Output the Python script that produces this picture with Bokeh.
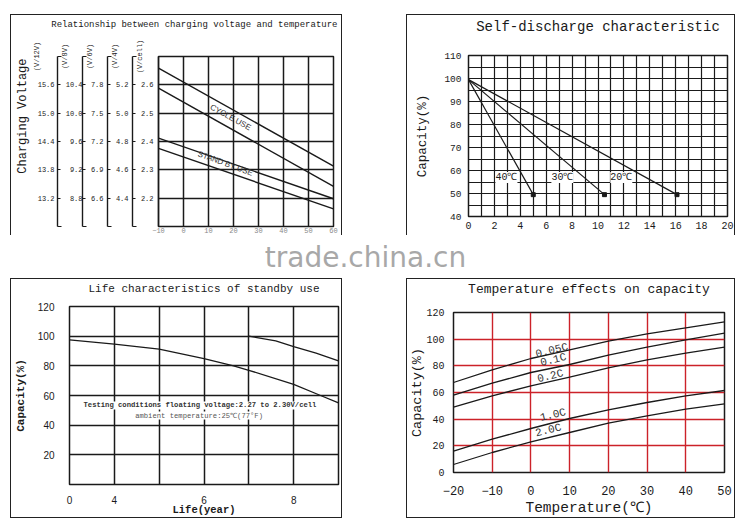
import math
from bokeh.plotting import figure
from bokeh.layouts import column, row
from bokeh.models import (Range1d, LinearAxis, FixedTicker, PrintfTickFormatter,
                          Label, Spacer, Title)
from bokeh.embed import file_html
from bokeh.resources import INLINE

MONO = "Liberation Mono"
SANS = "Liberation Sans"
INK = "#1a1a1a"

# ---------------- Panel 1: charging voltage vs temperature ----------------
p1_temp = [-10, 60]
p1_temp_ticks = [-10, 0, 10, 20, 30, 40, 50, 60]
cycle_upper = [2.659, 2.313]
cycle_lower = [2.588, 2.242]
standby_upper = [2.412, 2.198]
standby_lower = [2.376, 2.162]
v_cell_ticks = [2.2, 2.3, 2.4, 2.5, 2.6]
v4_ticks = [4.4, 4.6, 4.8, 5.0, 5.2]
v6_ticks = [6.6, 6.9, 7.2, 7.5, 7.8]
v8_ticks = [8.8, 9.2, 9.6, 10.0, 10.4]
v12_ticks = [13.2, 13.8, 14.4, 15.0, 15.6]
scale_names = ["(V/cell)", "(V/4V)", "(V/6V)", "(V/8V)", "(V/12V)"]

# ---------------- Panel 2: self-discharge ----------------
sd_x_ticks = [0, 2, 4, 6, 8, 10, 12, 14, 16, 18, 20]
sd_x_grid = list(range(0, 21))
sd_y_ticks = [40, 50, 60, 70, 80, 90, 100, 110]
sd_y_grid = [40, 45, 50, 55, 60, 65, 70, 75, 80, 85, 90, 95, 100, 105, 110]
sd_40_x = [0, 5.0]
sd_30_x = [0, 10.5]
sd_20_x = [0, 16.1]
sd_y = [99.5, 49.5]
sd_labels = ["40℃", "30℃", "20℃"]

# ---------------- Panel 3: life characteristics ----------------
life_x1 = [3, 4, 5, 6, 6.66, 7, 8, 8.6, 9]
life_y1 = [97.5, 94.6, 91.2, 84.9, 80, 77, 67.5, 60, 55]
life_x2 = [7, 7.6, 8, 8.5, 9]
life_y2 = [100, 96.8, 93, 88.5, 83.3]
life_x_ticks = [3, 4, 6, 8]
life_x_grid = [4, 5, 6, 7, 8]
life_y_ticks = [20, 40, 60, 80, 100, 120]

# ---------------- Panel 4: temperature effects ----------------
temp_c = [-20, -10, 0, 10, 20, 30, 40, 50]
cap_005 = [67.5, 77, 85.5, 92, 98.5, 104, 108.5, 113]
cap_01 = [58, 67, 75, 81, 88, 94, 99.5, 104.5]
cap_02 = [49, 57.5, 65, 71.5, 78.5, 84.5, 89.5, 94]
cap_10 = [16, 25, 33, 40.5, 47, 52.5, 57.5, 61.5]
cap_20 = [6, 15, 23, 30, 37, 42.5, 47.5, 51.5]
rate_labels = ["0.05C", "0.1C", "0.2C", "1.0C", "2.0C"]
te_y_ticks = [0, 20, 40, 60, 80, 100, 120]


def base_fig(w, h, xr, yr, left, right, top, bottom):
    p = figure(width=w, height=h, x_range=Range1d(*xr), y_range=Range1d(*yr),
               output_backend="svg", toolbar_location=None,
               min_border_left=left, min_border_right=right,
               min_border_top=top, min_border_bottom=bottom)
    if "frame_align" in p.properties():
        p.frame_align = False
    p.background_fill_color = "white"
    p.border_fill_color = "white"
    p.outline_line_color = INK
    p.outline_line_width = 1.5
    p.title.text = ""
    bx = p.below[0]
    ly = p.left[0]
    bx.axis_label = None
    ly.axis_label = None
    return p, bx, ly


def set_title(p, text, size, pad, offset=0, align="center"):
    # invisible spacer axis (one hidden tick) between frame and title, title outside it
    mid = 0.5 * (p.x_range.start + p.x_range.end)
    pad_ax = LinearAxis(ticker=FixedTicker(ticks=[mid]), major_tick_out=max(pad - 1, 0),
                        major_tick_in=0, major_tick_line_color=None, minor_tick_out=0,
                        minor_tick_in=0, minor_tick_line_color=None, axis_line_color=None,
                        axis_label=None, major_label_standoff=0,
                        major_label_text_font_size="1px", major_label_text_color=None)
    p.add_layout(pad_ax, "above")
    p.add_layout(Title(text=text, text_font=MONO, text_font_size=size,
                       text_font_style="normal", text_color=INK, align=align,
                       standoff=0, offset=offset), "above")


def style_axis(ax, font, size, standoff):
    ax.major_label_text_font = font
    ax.major_label_text_font_size = size
    ax.major_label_text_color = INK
    ax.major_label_standoff = standoff


def set_axis_label(ax, text, size, standoff, style="normal"):
    ax.axis_label = text
    ax.axis_label_text_font = MONO
    ax.axis_label_text_font_size = size
    ax.axis_label_text_font_style = style
    ax.axis_label_text_color = INK
    ax.axis_label_standoff = standoff


def plain_axis(ax):
    ax.axis_line_color = None
    ax.major_tick_line_color = None
    ax.minor_tick_line_color = None


BORDER = "1px solid #222"

# ======================= Panel 1 =======================
p1, p1x, p1y = base_fig(332, 221, (-10, 60), (2.1, 2.7), 147, 10, 41, 10)
p1.extra_y_ranges = {"v4": Range1d(4.2, 5.4), "v6": Range1d(6.3, 8.1),
                     "v8": Range1d(8.4, 10.8), "v12": Range1d(12.6, 16.2)}

scale_axes = [p1y]
for nm in ["v4", "v6", "v8", "v12"]:
    ax = LinearAxis(y_range_name=nm)
    p1.add_layout(ax, "left")
    scale_axes.append(ax)

scale_specs = [(v_cell_ticks, 2.1, 2.7, 5), (v4_ticks, 4.2, 5.4, 4),
               (v6_ticks, 6.3, 8.1, 4), (v8_ticks, 8.4, 10.8, 0),
               (v12_ticks, 12.6, 16.2, 3)]
for ax, (tk, lo, hi, so), nm in zip(scale_axes, scale_specs, scale_names):
    ax.ticker = FixedTicker(ticks=tk, minor_ticks=[lo, hi])
    ax.formatter = PrintfTickFormatter(format="%.1f")
    ax.major_tick_in = 3
    ax.major_tick_out = 0
    ax.minor_tick_in = 4
    ax.minor_tick_out = 0
    ax.major_tick_line_color = INK
    ax.minor_tick_line_color = INK
    ax.major_tick_line_width = 1.2
    ax.minor_tick_line_width = 1.2
    ax.axis_line_color = INK
    ax.axis_line_width = 1.4
    style_axis(ax, MONO, "7px", so)
    set_axis_label(ax, nm, "7px", -6)
    if "axis_label_align" in ax.properties():
        ax.axis_label_align = "end"

p1.add_layout(Title(text="Charging Voltage", align="right", offset=2, standoff=0,
                    text_font=MONO, text_font_size="12px", text_font_style="normal",
                    text_color=INK), "left")

p1x.ticker = FixedTicker(ticks=p1_temp_ticks)
p1x.major_tick_in = 0
p1x.major_tick_out = 0
p1x.minor_tick_line_color = None
p1x.axis_line_color = None
style_axis(p1x, MONO, "7px", 1)
p1x.major_label_text_color = "#888888"

p1.xgrid.ticker = FixedTicker(ticks=p1_temp_ticks)
p1.ygrid.ticker = FixedTicker(ticks=v_cell_ticks)
p1.grid.grid_line_color = INK
p1.grid.grid_line_width = 1.5

for ys in (cycle_upper, cycle_lower, standby_upper, standby_lower):
    p1.line(p1_temp, ys, line_color=INK, line_width=1.4)

p1.add_layout(Label(x=18.8, y=2.485, text="CYCLE USE", angle=-0.5,
                    text_align="center", text_baseline="middle", text_font=SANS,
                    text_font_size="8px", text_color="#333333"))
p1.add_layout(Label(x=16.8, y=2.322, text="STAND BY USE", angle=-0.35,
                    text_align="center", text_baseline="middle", text_font=SANS,
                    text_font_size="8px", text_color="#333333"))
set_title(p1, "Relationship between charging voltage and temperature", "9px", 28,
          offset=-4, align="right")
p1.styles = {"border-top": BORDER, "border-left": BORDER, "border-right": BORDER}

# ======================= Panel 2 =======================
p2, p2x, p2y = base_fig(329, 221, (0, 20), (40, 110), 61, 9, 40, 20)
p2x.ticker = FixedTicker(ticks=sd_x_ticks)
p2y.ticker = FixedTicker(ticks=sd_y_ticks, minor_ticks=sd_y_grid)
p2.xgrid.ticker = FixedTicker(ticks=sd_x_grid)
p2.ygrid.ticker = FixedTicker(ticks=sd_y_grid)
p2.grid.grid_line_color = INK
p2.grid.grid_line_width = 1.2
for ax in (p2x, p2y):
    ax.axis_line_color = None
    ax.major_tick_in = 4
    ax.major_tick_out = 0
    ax.minor_tick_in = 2
    ax.minor_tick_out = 0
    ax.major_tick_line_color = INK
    ax.minor_tick_line_color = INK
style_axis(p2x, MONO, "10px", 5)
style_axis(p2y, MONO, "9.5px", 7)
set_axis_label(p2y, "Capacity(%)", "12.5px", 11)

for xs in (sd_40_x, sd_30_x, sd_20_x):
    p2.line(xs, sd_y, line_color=INK, line_width=1.2)
    p2.scatter(xs[-1:], sd_y[-1:], marker="square", size=4, color=INK)
for lx, txt in zip((2.93, 7.25, 11.8), sd_labels):
    p2.add_layout(Label(x=lx, y=57, text=txt, text_align="center",
                        text_baseline="middle", text_font=MONO, text_font_size="10px",
                        text_color=INK, background_fill_color="white"))
set_title(p2, "Self-discharge characteristic", "14px", 22)
p2.styles = {"border-top": BORDER, "border-left": BORDER, "border-right": BORDER}

# ======================= Watermark band =======================
wm = figure(width=730, height=43, x_range=Range1d(0, 730), y_range=Range1d(0, 43),
            x_axis_location=None, y_axis_location=None, output_backend="svg",
            toolbar_location=None, min_border=0, outline_line_color=None)
wm.grid.visible = False
wm.add_layout(Label(x=365, y=21, text="trade.china.cn", text_align="center",
                    text_baseline="alphabetic", text_font="DejaVu Sans",
                    text_font_size="28px", text_color="#a8a8a8"))

# ======================= Panel 3 =======================
p3, p3x, p3y = base_fig(332, 240, (3, 9), (0, 120), 57, 5, 27, 35)
p3x.ticker = FixedTicker(ticks=life_x_ticks)
p3x.major_label_overrides = {3: "0"}
p3y.ticker = FixedTicker(ticks=life_y_ticks)
p3.xgrid.ticker = FixedTicker(ticks=life_x_grid)
p3.ygrid.ticker = FixedTicker(ticks=life_y_ticks)
p3.grid.grid_line_color = INK
p3.grid.grid_line_width = 1.5
plain_axis(p3x)
plain_axis(p3y)
style_axis(p3x, SANS, "10px", 5)
style_axis(p3y, SANS, "10px", 9)
set_axis_label(p3y, "Capacity(%)", "11px", 8, "bold")
set_axis_label(p3x, "Life(year)", "10.5px", -3, "bold")

p3.line(life_x1, life_y1, line_color=INK, line_width=1.3)
p3.line(life_x2, life_y2, line_color=INK, line_width=1.3)
p3.add_layout(Label(x=5.91, y=53.3, text="Testing conditions floating voltage:2.27 to 2.30V/cell",
                    text_align="center", text_baseline="middle", text_font=MONO,
                    text_font_size="7.2px", text_font_style="bold", text_color="#333333",
                    background_fill_color="white"))
p3.add_layout(Label(x=5.89, y=46.5, text="ambient temperature:25℃(77°F)",
                    text_align="center", text_baseline="middle", text_font=MONO,
                    text_font_size="7.2px", text_color="#555555",
                    background_fill_color="white"))
set_title(p3, "Life characteristics of standby use", "11px", 13)
p3.styles = {"border": BORDER}

# ======================= Panel 4 =======================
RED = "#cc2229"
p4, p4x, p4y = base_fig(329, 240, (-20, 50), (0, 120), 46, 12, 33, 47)
p4x.ticker = FixedTicker(ticks=temp_c)
p4y.ticker = FixedTicker(ticks=te_y_ticks)
p4.grid.grid_line_color = RED
p4.grid.grid_line_width = 1.4
plain_axis(p4x)
plain_axis(p4y)
style_axis(p4x, MONO, "12px", 7)
style_axis(p4y, MONO, "10px", 3)
set_axis_label(p4y, "Capacity(%)", "13.5px", -2)
set_axis_label(p4x, "Temperature(℃)", "14.5px", 2)

for ys in (cap_005, cap_01, cap_02, cap_10, cap_20):
    p4.line(temp_c, ys, line_color=INK, line_width=1.3)
for (lx, ly), txt in zip(((5.4, 91.4), (5.8, 84.4), (5.0, 72.2), (5.7, 43.1), (4.5, 31.6)),
                         rate_labels):
    p4.add_layout(Label(x=lx, y=ly, text=txt, angle=0.24, text_align="center",
                        text_baseline="middle", text_font=MONO, text_font_size="11px",
                        text_color="#333333"))
set_title(p4, "Temperature effects on capacity", "13px", 17)
p4.styles = {"border": BORDER}

top_row = row(Spacer(width=10), p1, Spacer(width=64), p2)
bottom_row = row(Spacer(width=10), p3, Spacer(width=64), p4)
page = column(Spacer(height=14), top_row, wm, bottom_row)

open("out.html", "w").write(file_html(page, INLINE))
